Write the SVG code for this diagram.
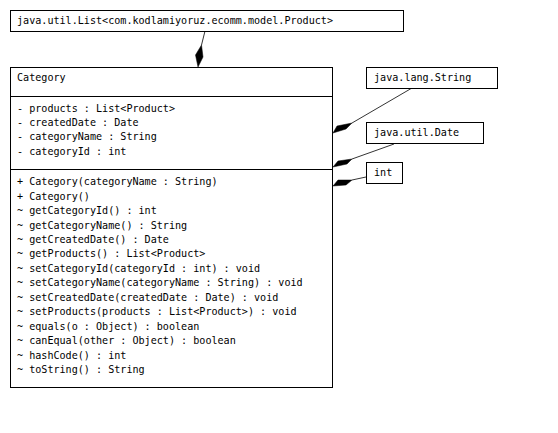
<svg xmlns="http://www.w3.org/2000/svg" width="558" height="433" viewBox="0 0 558 433">
<style>
.box{fill:#fff;stroke:#000;stroke-width:1}
.sep{stroke:#000;stroke-width:1}
.mono{font-family:"DejaVu Sans Mono","Liberation Mono",monospace;font-size:10.1px;fill:#000}
.mem{font-family:"DejaVu Sans Mono","Liberation Mono",monospace;font-size:10.1px;fill:#000}
.conn{stroke:#000;stroke-width:0.8;fill:none}
.dia{fill:#000;stroke:#000;stroke-width:0.5}
</style>
<rect width="558" height="433" fill="#fff"/>
<g id="connectors">
<line class="conn" x1="205" y1="31" x2="201.5" y2="45"/>
<polygon class="dia" points="198,67 195.5,55 201.5,45 203,57"/>
<line class="conn" x1="412" y1="88" x2="352" y2="123"/>
<polygon class="dia" points="333,133 337,126 352,123 346,129"/>
<line class="conn" x1="394" y1="144" x2="352" y2="159"/>
<polygon class="dia" points="333,167 338,161 352,159 347,164"/>
<line class="conn" x1="366" y1="177" x2="352" y2="180"/>
<polygon class="dia" points="333,186 338,180 352,180 346,185"/>
</g>
<g id="list">
<rect class="box" x="10.5" y="10.5" width="393" height="21"/>
<text class="mono" x="17" y="24">java.util.List&lt;com.kodlamiyoruz.ecomm.model.Product&gt;</text>
</g>
<g id="string">
<rect class="box" x="366.5" y="67.5" width="131" height="21"/>
<text class="mono" x="374" y="81">java.lang.String</text>
</g>
<g id="date">
<rect class="box" x="366.5" y="122.5" width="117" height="21"/>
<text class="mono" x="374" y="136">java.util.Date</text>
</g>
<g id="int">
<rect class="box" x="366.5" y="162.5" width="36" height="21"/>
<text class="mono" x="374" y="176">int</text>
</g>
<g id="category">
<rect class="box" x="10.5" y="67.5" width="322" height="320"/>
<line class="sep" x1="10.5" y1="96.5" x2="332.5" y2="96.5"/>
<line class="sep" x1="10.5" y1="169.5" x2="332.5" y2="169.5"/>
<text class="mono" x="17" y="81">Category</text>
<text class="mem" x="17" y="111.5">- products : List&lt;Product&gt;</text>
<text class="mem" x="17" y="125.9">- createdDate : Date</text>
<text class="mem" x="17" y="140.3">- categoryName : String</text>
<text class="mem" x="17" y="154.7">- categoryId : int</text>
<text class="mem" x="17" y="185.2">+ Category(categoryName : String)</text>
<text class="mem" x="17" y="199.6">+ Category()</text>
<text class="mem" x="17" y="214.1">~ getCategoryId() : int</text>
<text class="mem" x="17" y="228.5">~ getCategoryName() : String</text>
<text class="mem" x="17" y="243">~ getCreatedDate() : Date</text>
<text class="mem" x="17" y="257.4">~ getProducts() : List&lt;Product&gt;</text>
<text class="mem" x="17" y="271.9">~ setCategoryId(categoryId : int) : void</text>
<text class="mem" x="17" y="286.3">~ setCategoryName(categoryName : String) : void</text>
<text class="mem" x="17" y="300.7">~ setCreatedDate(createdDate : Date) : void</text>
<text class="mem" x="17" y="315.2">~ setProducts(products : List&lt;Product&gt;) : void</text>
<text class="mem" x="17" y="329.6">~ equals(o : Object) : boolean</text>
<text class="mem" x="17" y="344.1">~ canEqual(other : Object) : boolean</text>
<text class="mem" x="17" y="358.5">~ hashCode() : int</text>
<text class="mem" x="17" y="373">~ toString() : String</text>
</g>
</svg>
